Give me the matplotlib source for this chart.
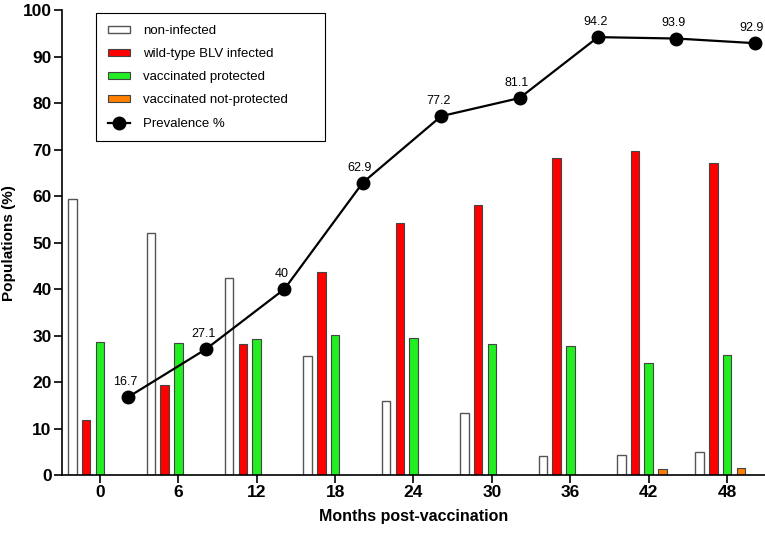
import matplotlib.pyplot as plt
from matplotlib.patches import Rectangle
import numpy as np

plt.rcParams['font.family'] = ['Liberation Sans', 'DejaVu Sans']

months = [0, 6, 12, 18, 24, 30, 36, 42, 48]
non_infected = [59.3, 52.0, 42.3, 25.7, 16.0, 13.4, 4.1, 4.3, 5.0]
wild_type = [11.8, 19.3, 28.2, 43.7, 54.2, 58.1, 68.1, 69.7, 67.2]
vacc_protected = [28.6, 28.5, 29.2, 30.2, 29.5, 28.3, 27.7, 24.1, 25.8]
vacc_not_protected = [0, 0, 0, 0, 0, 0, 0, 1.3, 1.5]
prevalence = [16.7, 27.1, 40, 62.9, 77.2, 81.1, 94.2, 93.9, 92.9]
prev_labels = ['16.7', '27.1', '40', '62.9', '77.2', '81.1', '94.2', '93.9', '92.9']

fig = plt.figure(figsize=(7.65, 5.35), dpi=100)
ax = fig.add_axes([0.081, 0.112, 0.919, 0.869])

x = np.array(months, dtype=float)
step = 1.05   # distance between bars inside a group (months)
w = 0.65

b1 = ax.bar(x - 2 * step, non_infected, w, color='white', edgecolor='#555555', lw=1.0)
b2 = ax.bar(x - step, wild_type, w, color='#ff0000', edgecolor='#444444', lw=0.8)
b3 = ax.bar(x, vacc_protected, w, color='#22ee22', edgecolor='#444444', lw=0.8)
b4 = ax.bar(x + step, vacc_not_protected, w, color='#ff8000', edgecolor='#444444', lw=0.8)

px = x + 2.12
ln, = ax.plot(px, prevalence, '-o', color='black', lw=1.6, ms=9)
for xi, yi, s in zip(px, prevalence, prev_labels):
    ax.annotate(s, (xi, yi), xytext=(-2, 6.5), textcoords='offset points',
                ha='center', va='bottom', fontsize=9)

ax.set_xlim(-2.9, 50.9)
ax.set_ylim(0, 100)
ax.set_xticks(months)
ax.set_yticks(range(0, 101, 10))
ax.tick_params(labelsize=12.5, width=1.2, length=6, pad=1.5)
for lab in ax.get_xticklabels() + ax.get_yticklabels():
    lab.set_fontweight('bold')
ax.spines['top'].set_visible(False)
ax.spines['right'].set_visible(False)
ax.spines['left'].set_linewidth(1.2)
ax.spines['bottom'].set_linewidth(1.2)

ax.set_xlabel('Months post-vaccination', fontsize=11.5, fontweight='bold', labelpad=6)
ax.set_ylabel('Populations (%)', fontsize=11, fontweight='bold')
ax.yaxis.set_label_coords(-0.066, 0.5)

# legend frame is drawn by hand: it is wider than the text needs
ax.add_patch(Rectangle((0.048, 0.718), 0.326, 0.276, transform=ax.transAxes,
                       facecolor='white', edgecolor='black', lw=0.8, zorder=4))
leg = ax.legend([b1, b2, b3, b4, ln],
                ['non-infected', 'wild-type BLV infected', 'vaccinated protected',
                 'vaccinated not-protected', 'Prevalence %'],
                loc='upper left', bbox_to_anchor=(0.048, 0.994), fontsize=9.5,
                frameon=False, handlelength=1.7, handleheight=0.45, borderpad=0.9,
                labelspacing=0.85, handletextpad=1.0, borderaxespad=0)
leg.set_zorder(5)

fig.savefig('out.png', dpi=100)
